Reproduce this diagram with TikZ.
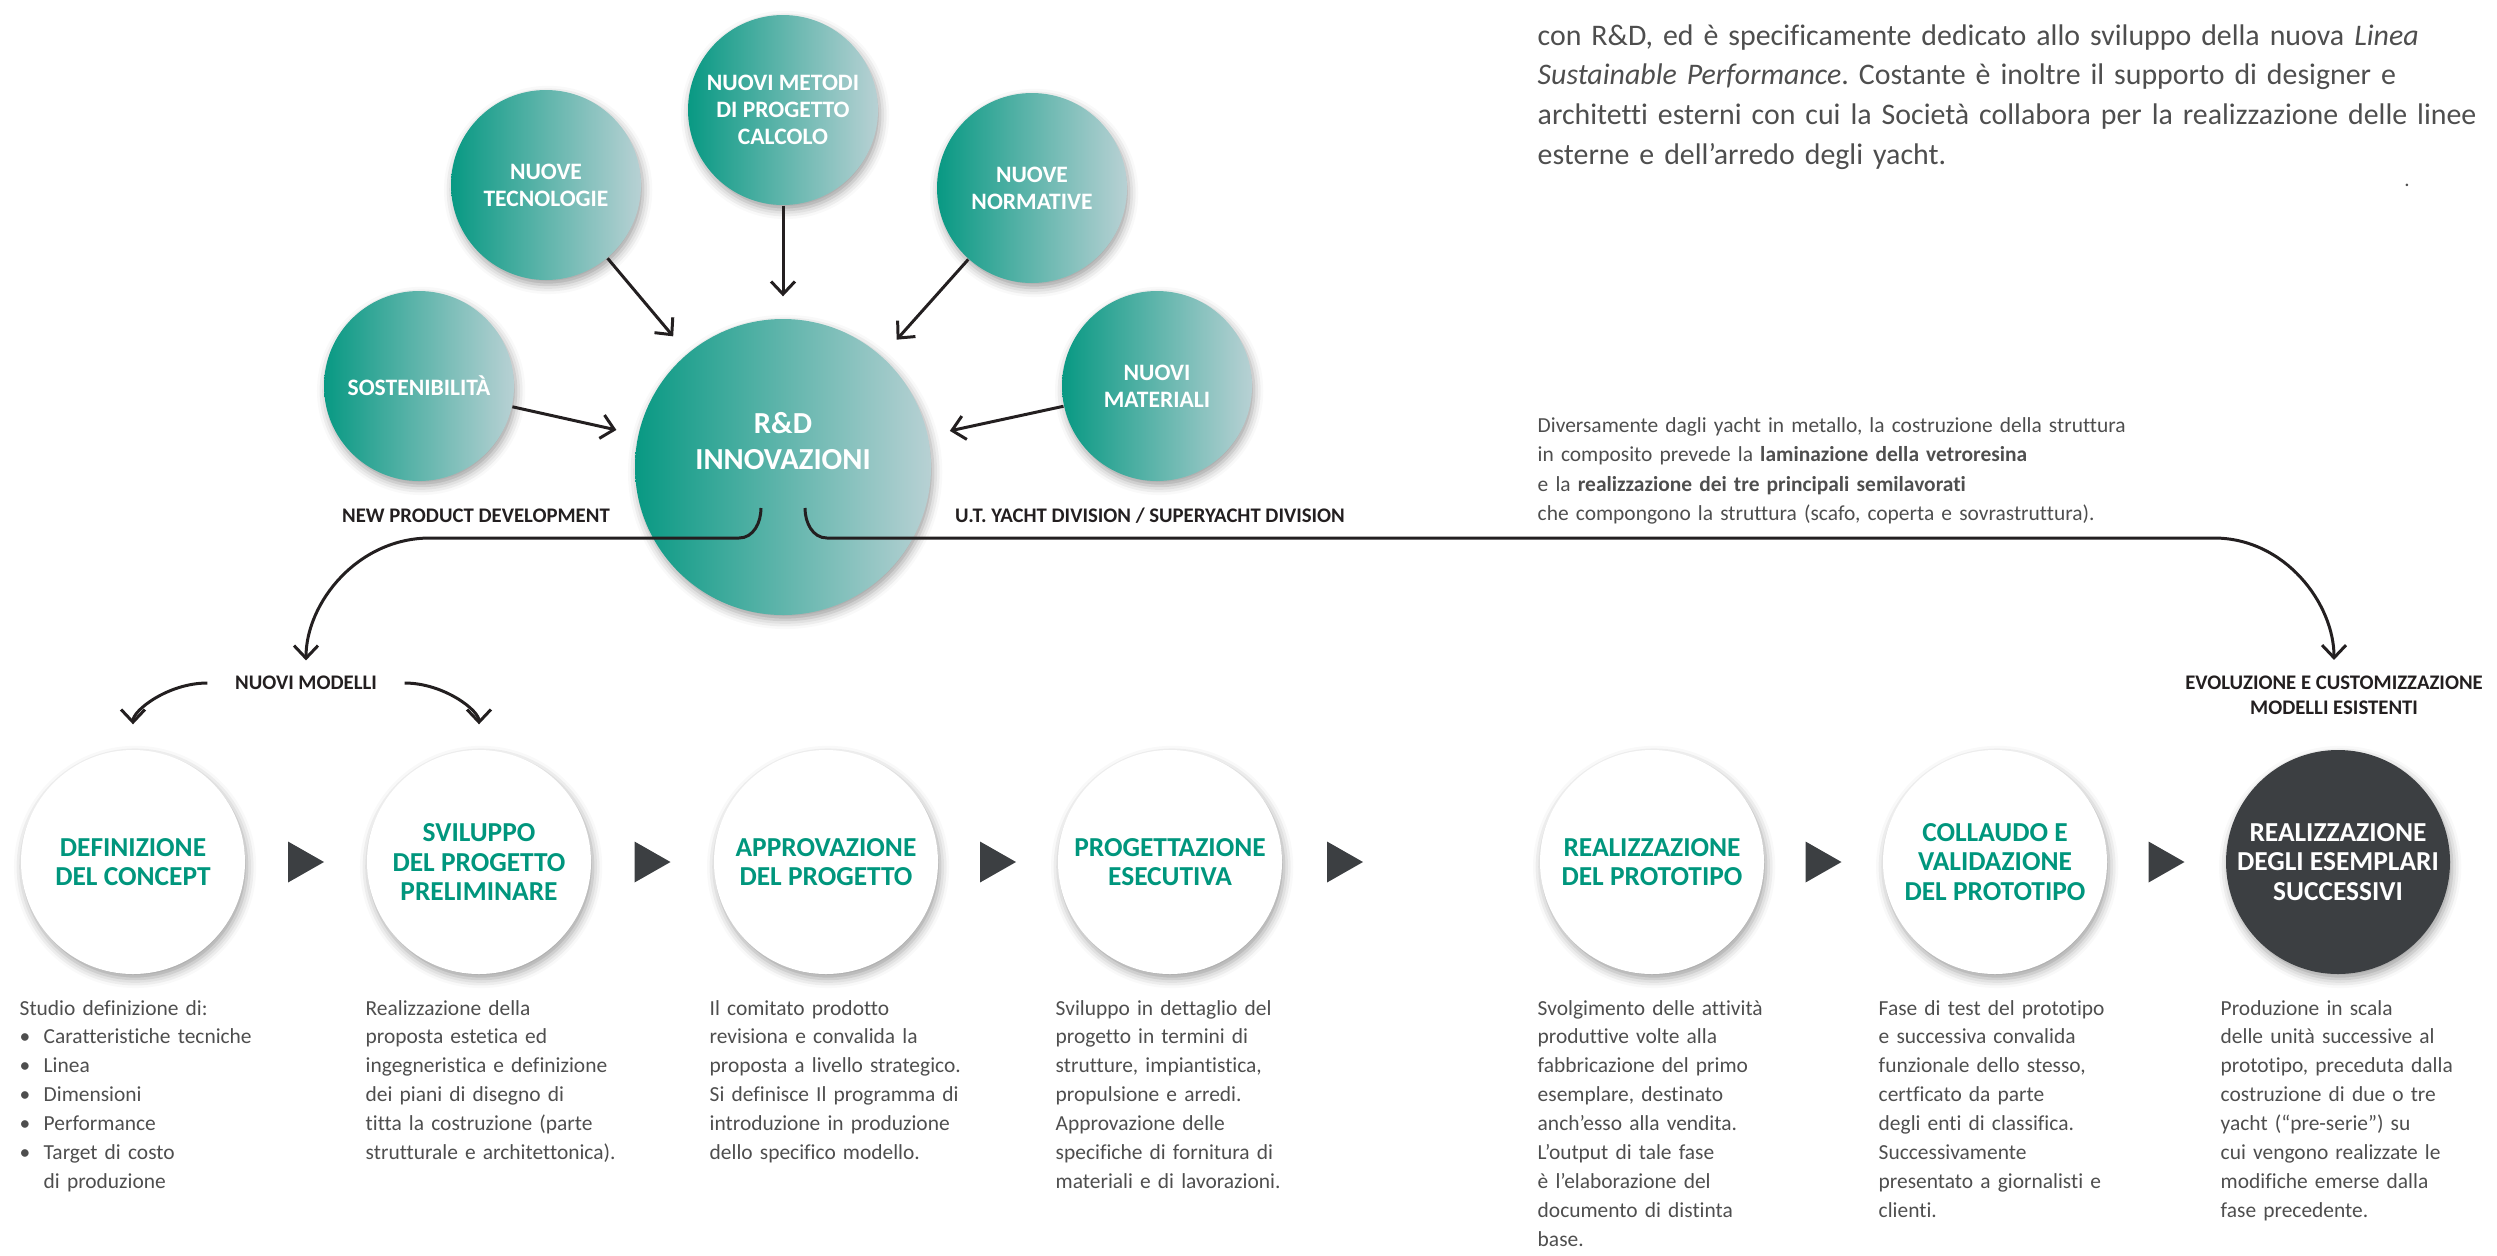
\documentclass[tikz,border=0pt]{standalone}
\usepackage{fontspec}
\setmainfont{Carlito}[Ligatures=NoCommon]
\frenchspacing
\definecolor{rdteal}{RGB}{8, 153, 131}
\definecolor{rdpale}{RGB}{184, 209, 212}
\definecolor{phasetext}{RGB}{0, 150, 125}
\definecolor{charcoal}{RGB}{60, 63, 66}
\definecolor{bodytext}{RGB}{78, 78, 78}
\definecolor{inkline}{RGB}{35, 31, 32}
\usepackage{tikz}
\usetikzlibrary{arrows.meta, positioning, calc, shadows.blur}
\tikzset{
    softshadow/.style={blur shadow={shadow xshift=0.6pt, shadow yshift=-1.4pt, shadow blur radius=2.6pt, shadow opacity=38}},
    topbubble/.style={circle, minimum size=1.9cm, inner sep=0pt, left color=rdteal, right color=rdpale, align=center, text=white, font=\fontsize{6.7}{7.6}\selectfont\bfseries, softshadow},
    rdbubble/.style={topbubble, minimum size=2.96cm},
    phase/.style={circle, minimum size=2.24cm, inner sep=0pt, fill=white, align=center, text=phasetext, font=\fontsize{7.8}{8.3}\selectfont\bfseries, softshadow},
    lastphase/.style={phase, fill=charcoal, text=white},
    tag/.style={inner sep=0pt, align=center, text=inkline, font=\fontsize{5.9}{7.1}\selectfont\bfseries},
    desc/.style={inner sep=0pt, anchor=base west, text width=3.3cm, align=left, text=bodytext, font=\fontsize{6.1}{8.22}\selectfont},
    flow/.style={line width=0.85pt, inkline, -{Straight Barb[length=3.6pt, width=6.8pt]}},
    pointer/.style={fill=charcoal}
}

\begin{document}
\begin{tikzpicture}
        \useasboundingbox (0,0) rectangle (24.97,-12.55);

        % Sources of innovation
        \node[topbubble] (metodi) at (7.83, -1.10) {NUOVI METODI\\DI PROGETTO\\CALCOLO};
        \node[topbubble] (tecno) at (5.46, -1.85) {NUOVE\\TECNOLOGIE};
        \node[topbubble] (norme) at (10.32, -1.88) {NUOVE\\NORMATIVE};
        \node[topbubble] (sost) at (4.19, -3.86) {SOSTENIBILITÀ};
        \node[topbubble] (mater) at (11.57, -3.86) {NUOVI\\MATERIALI};

        % R&D
        \node[rdbubble] (rd) at (7.83, -4.67) {};
        \node[text=white, align=center, inner sep=0pt, font=\fontsize{8.7}{10.1}\selectfont\bfseries] (rdtxt) at (7.83, -4.41) {R\&D\\INNOVAZIONI};
        \coordinate (hookL) at (7.61, -5.08);
        \coordinate (hookR) at (8.05, -5.08);

        % Labels
        \node[tag] (npd) at (4.76, -5.16) {NEW PRODUCT DEVELOPMENT};
        \node[tag] (utyd) at (11.50, -5.16) {U.T. YACHT DIVISION / SUPERYACHT DIVISION};
        \node[tag] (nm) at (3.06, -6.83) {NUOVI MODELLI};
        \node[tag] (evo) at (23.34, -6.95) {EVOLUZIONE E CUSTOMIZZAZIONE\\MODELLI ESISTENTI};

        % Text on the right
        \node[desc, text width=9.8cm, font=\fontsize{8.5}{11.3}\selectfont] (intro) at (15.37, -0.45) {con R\&D, ed è specificamente dedicato allo sviluppo della nuova \textit{Linea}\\\textit{Sustainable Performance}. Costante è inoltre il supporto di designer e\\architetti esterni con cui la Società collabora per la realizzazione delle linee\\esterne e dell’arredo degli yacht.};
        \node[text=bodytext, inner sep=0pt, font=\fontsize{6}{7}\selectfont] (dot) at (24.07, -1.85) {.};
        \node[desc, text width=6.6cm, font=\fontsize{6.1}{8.4}\selectfont] (vtr) at (15.37, -4.32) {Diversamente dagli yacht in metallo, la costruzione della struttura\\in composito prevede la \textbf{laminazione della vetroresina}\\e la \textbf{realizzazione dei tre principali semilavorati}\\che compongono la struttura (scafo, coperta e sovrastruttura).};

        % Phases
        \node[phase] (def) at (1.33, -8.62) {DEFINIZIONE\\DEL CONCEPT};
        \node[phase] (svi) at (4.79, -8.62) {SVILUPPO\\DEL PROGETTO\\PRELIMINARE};
        \node[phase] (app) at (8.26, -8.62) {APPROVAZIONE\\DEL PROGETTO};
        \node[phase] (ese) at (11.70, -8.62) {PROGETTAZIONE\\ESECUTIVA};
        \node[phase] (pro) at (16.52, -8.62) {REALIZZAZIONE\\DEL PROTOTIPO};
        \node[phase] (col) at (19.95, -8.62) {COLLAUDO E\\VALIDAZIONE\\DEL PROTOTIPO};
        \node[lastphase] (ser) at (23.38, -8.62) {REALIZZAZIONE\\DEGLI ESEMPLARI\\SUCCESSIVI};

        \foreach \x in {3.06, 6.525, 9.98, 13.45, 18.235, 21.665}
            \fill[pointer] (\x-0.18, -8.415) -- (\x+0.18, -8.62) -- (\x-0.18, -8.825) -- cycle;

        % Descriptions
        \node[desc] (d1) at (0.19, -10.15) {Studio definizione di:\\\makebox[0.24cm][l]{\textbullet}Caratteristiche tecniche\\\makebox[0.24cm][l]{\textbullet}Linea\\\makebox[0.24cm][l]{\textbullet}Dimensioni\\\makebox[0.24cm][l]{\textbullet}Performance\\\makebox[0.24cm][l]{\textbullet}Target di costo\\\hspace*{0.24cm}di produzione};
        \node[desc] (d2) at (3.65, -10.15) {Realizzazione della\\proposta estetica ed\\ingegneristica e definizione\\dei piani di disegno di\\titta la costruzione (parte\\strutturale e architettonica).};
        \node[desc] (d3) at (7.09, -10.15) {Il comitato prodotto\\revisiona e convalida la\\proposta a livello strategico.\\Si definisce Il programma di\\introduzione in produzione\\dello specifico modello.};
        \node[desc] (d4) at (10.55, -10.15) {Sviluppo in dettaglio del\\progetto in termini di\\strutture, impiantistica,\\propulsione e arredi.\\Approvazione delle\\specifiche di fornitura di\\materiali e di lavorazioni.};
        \node[desc] (d5) at (15.37, -10.15) {Svolgimento delle attività\\produttive volte alla\\fabbricazione del primo\\esemplare, destinato\\anch’esso alla vendita.\\L’output di tale fase\\è l’elaborazione del\\documento di distinta\\base.};
        \node[desc] (d6) at (18.78, -10.15) {Fase di test del prototipo\\e successiva convalida\\funzionale dello stesso,\\certficato da parte\\degli enti di classifica.\\Successivamente\\presentato a giornalisti e\\clienti.};
        \node[desc] (d7) at (22.20, -10.15) {Produzione in scala\\delle unità successive al\\prototipo, preceduta dalla\\costruzione di due o tre\\yacht (“pre-serie”) su\\cui vengono realizzate le\\modifiche emerse dalla\\fase precedente.};

        % Arrows into R&D
        \draw[flow, shorten >=0.22cm] (metodi) -- (rd);
        \draw[flow, shorten >=0.22cm] (tecno) -- (rd);
        \draw[flow, shorten >=0.22cm] (norme) -- (rd);
        \draw[flow, shorten >=0.22cm] (sost) -- (rd);
        \draw[flow, shorten >=0.22cm] (mater) -- (rd);

        % Arrows out of R&D
        \draw[flow, shorten >=0.15cm] (hookL) to[out=-90, in=0] (7.39, -5.38) -- (4.30, -5.38) to[out=180, in=90] (nm.north);
        \draw[flow, shorten >=0.15cm] (hookR) to[out=-90, in=180] (8.27, -5.38) -- (22.14, -5.38) to[out=0, in=90] (evo.north);
        \draw[flow, shorten >=0.25cm] ([xshift=-0.27cm]nm.west) to[out=180, in=90] (def);
        \draw[flow, shorten >=0.25cm] ([xshift=0.27cm]nm.east) to[out=0, in=90] (svi);
    \end{tikzpicture}
\end{document}
